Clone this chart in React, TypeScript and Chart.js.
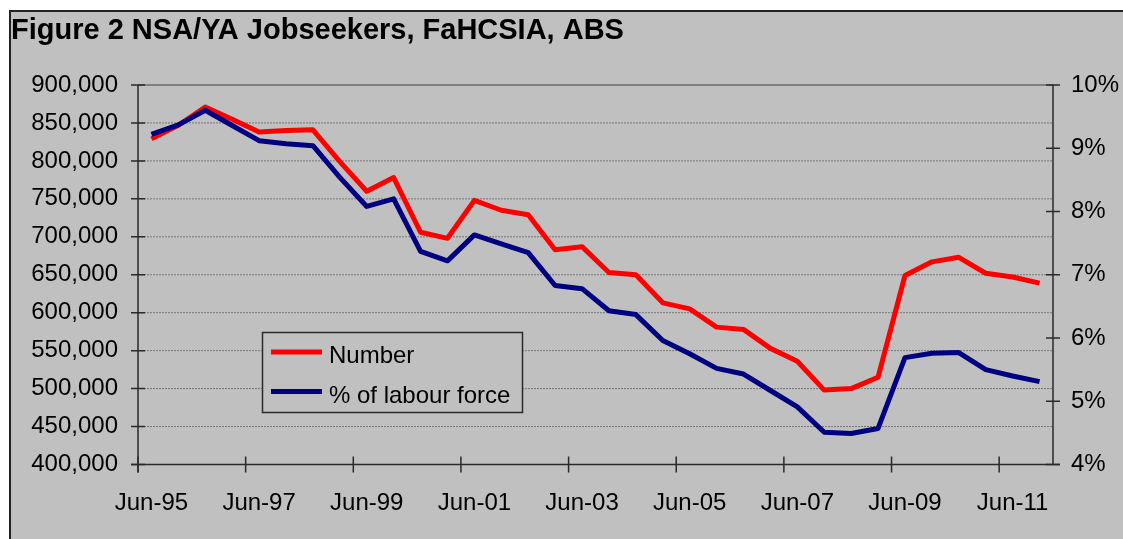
import React, { useEffect, useRef } from 'react';
import { Chart, registerables } from 'chart.js';

Chart.register(...registerables);

// ---------- data ----------
const TITLE = 'Figure 2 NSA/YA Jobseekers, FaHCSIA, ABS';

const periods = [
  'Jun-95', 'Dec-95', 'Jun-96', 'Dec-96', 'Jun-97', 'Dec-97', 'Jun-98', 'Dec-98',
  'Jun-99', 'Dec-99', 'Jun-00', 'Dec-00', 'Jun-01', 'Dec-01', 'Jun-02', 'Dec-02',
  'Jun-03', 'Dec-03', 'Jun-04', 'Dec-04', 'Jun-05', 'Dec-05', 'Jun-06', 'Dec-06',
  'Jun-07', 'Dec-07', 'Jun-08', 'Dec-08', 'Jun-09', 'Dec-09', 'Jun-10', 'Dec-10',
  'Jun-11', 'Dec-11',
];

const shownTickLabels = ['Jun-95', 'Jun-97', 'Jun-99', 'Jun-01', 'Jun-03', 'Jun-05', 'Jun-07', 'Jun-09', 'Jun-11'];

const seriesNames = ['Number', '% of labour force'];

const numberValues = [
  829000, 847000, 871000, 855000, 838000, 840000, 841000, 799000,
  760000, 778000, 706000, 698000, 748000, 735000, 729000, 683000,
  687000, 653000, 650000, 613000, 605000, 581000, 578000, 553000,
  536000, 498000, 500000, 515000, 649000, 667000, 673000, 652000,
  647000, 639000,
];

const pctValues = [
  9.22, 9.37, 9.6, 9.36, 9.12, 9.07, 9.04, 8.54,
  8.08, 8.2, 7.37, 7.22, 7.63, 7.49, 7.35, 6.83,
  6.78, 6.43, 6.37, 5.96, 5.75, 5.52, 5.43, 5.17,
  4.91, 4.51, 4.49, 4.57, 5.69, 5.76, 5.77, 5.5,
  5.4, 5.31,
];

const leftMin = 400000;
const leftMax = 900000;
const leftStep = 50000;
const rightMin = 4;
const rightMax = 10;
const rightStep = 1;

// ---------- styles ----------
const FONT = '"Liberation Sans", Arial, Helvetica, sans-serif';
const BG = '#C0C0C0';
const RED = '#FF0000';
const NAVY = '#000080';
const AXIS = '#2a2a2a';
const GRID = '#777777';

const decorPlugin = {
  id: 'decor',
  beforeDatasetsDraw(chart: any) {
    const { ctx, chartArea: a, scales } = chart;
    const y = scales.y;
    const yr = scales.yr;
    const x = scales.x;
    ctx.save();
    // gridlines
    y.ticks.forEach((t: any) => {
      if (t.value === y.min) return;
      const py = y.getPixelForValue(t.value);
      ctx.beginPath();
      if (t.value === y.max) {
        ctx.setLineDash([]);
        ctx.strokeStyle = '#808080';
        ctx.lineWidth = 2;
      } else {
        ctx.setLineDash([2, 1]);
        ctx.strokeStyle = GRID;
        ctx.lineWidth = 1;
      }
      ctx.moveTo(a.left, py);
      ctx.lineTo(a.right, py);
      ctx.stroke();
    });
    ctx.setLineDash([]);
    ctx.strokeStyle = AXIS;
    ctx.lineWidth = 1.5;
    // axis lines
    ctx.beginPath();
    ctx.moveTo(a.left, a.top);
    ctx.lineTo(a.left, a.bottom + 8);
    ctx.moveTo(a.left - 7, a.bottom);
    ctx.lineTo(a.right + 7, a.bottom);
    ctx.moveTo(a.right, a.top);
    ctx.lineTo(a.right, a.bottom);
    ctx.stroke();
    // left ticks
    ctx.beginPath();
    y.ticks.forEach((t: any) => {
      const py = y.getPixelForValue(t.value);
      ctx.moveTo(a.left - 7, py);
      ctx.lineTo(a.left + 7, py);
    });
    // right ticks
    yr.ticks.forEach((t: any) => {
      const py = yr.getPixelForValue(t.value);
      ctx.moveTo(a.right - 7, py);
      ctx.lineTo(a.right + 7, py);
    });
    // x ticks at category boundaries
    const half = (x.getPixelForValue(1) - x.getPixelForValue(0)) / 2;
    periods.forEach((p, i) => {
      if (!shownTickLabels.includes(p)) return;
      const px = x.getPixelForValue(i) - half;
      ctx.moveTo(px, a.bottom - 8);
      ctx.lineTo(px, a.bottom + 8);
    });
    ctx.stroke();
    ctx.restore();
  },
  afterDatasetsDraw(chart: any) {
    const { ctx } = chart;
    ctx.save();
    // legend box
    const bx = 251.5, by = 320.5, bw = 260, bh = 80;
    ctx.fillStyle = BG;
    ctx.fillRect(bx, by, bw, bh);
    ctx.strokeStyle = AXIS;
    ctx.lineWidth = 1.5;
    ctx.strokeRect(bx, by, bw, bh);
    const colors = [RED, NAVY];
    const rows = [340, 379.5];
    ctx.font = `24px ${FONT}`;
    ctx.textBaseline = 'alphabetic';
    ctx.textAlign = 'left';
    seriesNames.forEach((name, i) => {
      ctx.beginPath();
      ctx.strokeStyle = colors[i];
      ctx.lineWidth = 5;
      ctx.moveTo(260, rows[i]);
      ctx.lineTo(311, rows[i]);
      ctx.stroke();
      ctx.fillStyle = '#000';
      ctx.fillText(name, 318, rows[i] + 11);
    });
    ctx.restore();
  },
  afterDraw(chart: any) {
    const { ctx } = chart;
    ctx.save();
    ctx.font = `bold 29px ${FONT}`;
    ctx.fillStyle = '#000';
    ctx.textBaseline = 'alphabetic';
    ctx.textAlign = 'left';
    ctx.fillText(TITLE, 0, 27);
    ctx.restore();
  },
};

export default function App() {
  const ref = useRef<HTMLCanvasElement>(null);
  useEffect(() => {
    if (!ref.current) return;
    const tickFont = { family: FONT, size: 24 };
    const chart = new Chart(ref.current, {
      type: 'line',
      data: {
        labels: periods,
        datasets: [
          {
            label: seriesNames[0],
            data: numberValues,
            yAxisID: 'y',
            borderColor: RED,
            backgroundColor: RED,
            borderWidth: 5,
            pointRadius: 0,
            tension: 0,
            borderJoinStyle: 'round',
            order: 1,
          },
          {
            label: seriesNames[1],
            data: pctValues,
            yAxisID: 'yr',
            borderColor: NAVY,
            backgroundColor: NAVY,
            borderWidth: 5,
            pointRadius: 0,
            tension: 0,
            borderJoinStyle: 'round',
            order: 0,
          },
        ],
      },
      options: {
        responsive: false,
        animation: false,
        devicePixelRatio: 1,
        layout: { padding: { top: 73, left: 0, right: 0, bottom: 0 } },
        plugins: {
          legend: { display: false },
          title: { display: false },
          tooltip: { enabled: false },
        },
        scales: {
          x: {
            type: 'category',
            offset: true,
            grid: { display: false, drawTicks: false, offset: true },
            border: { display: false },
            ticks: {
              autoSkip: false,
              maxRotation: 0,
              minRotation: 0,
              padding: 24,
              color: '#000',
              font: tickFont,
              callback: (_v: any, i: number) => (shownTickLabels.includes(periods[i]) ? periods[i] : ''),
            },
            afterFit: (s: any) => { s.height = 74.5; },
          },
          y: {
            position: 'left',
            min: leftMin,
            max: leftMax,
            grid: { display: false, drawTicks: false },
            border: { display: false },
            ticks: {
              stepSize: leftStep,
              padding: 20,
              color: '#000',
              font: tickFont,
              callback: (v: any) => Number(v).toLocaleString('en-US'),
            },
            afterFit: (s: any) => { s.width = 127; },
          },
          yr: {
            position: 'right',
            min: rightMin,
            max: rightMax,
            grid: { display: false, drawTicks: false },
            border: { display: false },
            ticks: {
              stepSize: rightStep,
              padding: 18,
              color: '#000',
              font: tickFont,
              callback: (v: any) => `${v}%`,
            },
            afterFit: (s: any) => { s.width = 70; },
          },
        },
      },
      plugins: [decorPlugin],
    } as any);
    return () => chart.destroy();
  }, []);

  return (
    <div
      style={{
        position: 'fixed',
        left: 9,
        top: 10,
        width: 1114,
        height: 529,
        boxSizing: 'border-box',
        borderLeft: '2px solid #222',
        borderTop: '2px solid #222',
        background: BG,
      }}
    >
      <canvas ref={ref} width={1112} height={527} style={{ display: 'block' }} />
    </div>
  );
}
